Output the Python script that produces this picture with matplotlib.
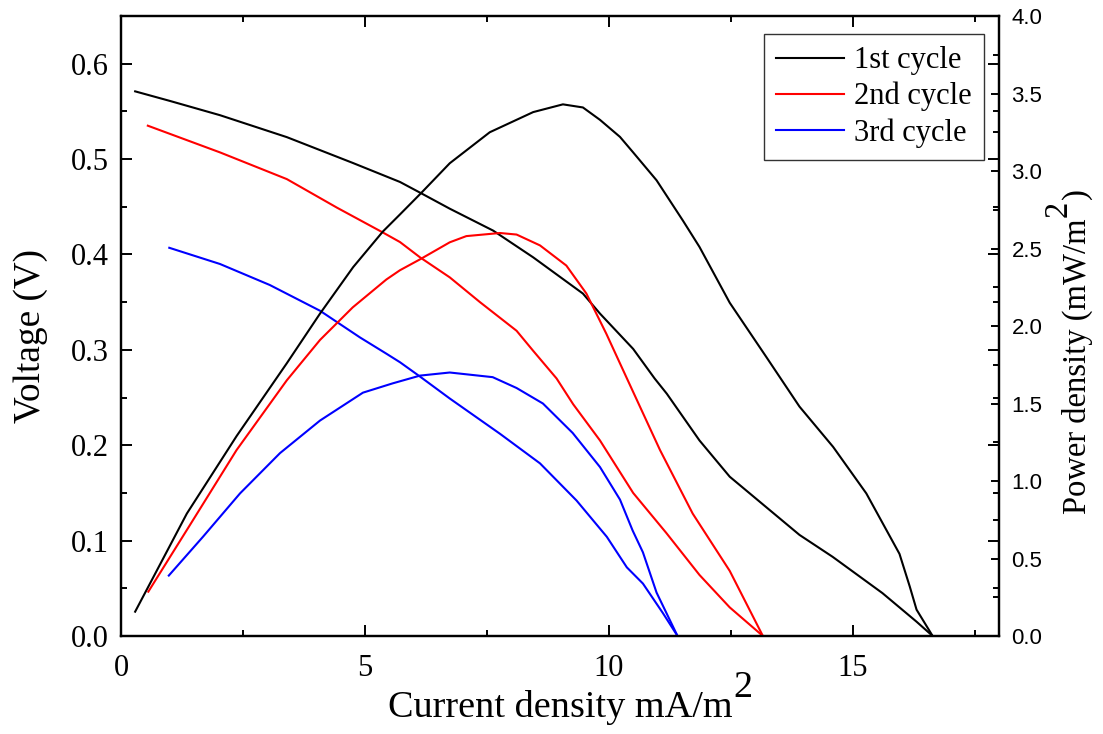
import matplotlib
matplotlib.use("Agg")
import matplotlib.pyplot as plt
from matplotlib.ticker import MultipleLocator, FormatStrFormatter

plt.rcParams["font.family"] = ["Liberation Serif", "DejaVu Serif"]

# ---- polarisation curves (voltage, V) ----
x_v1 = [0.29, 1.00, 2.03, 3.40, 4.75, 5.72, 6.16, 6.74, 7.63, 8.45, 9.47, 9.82,
        10.50, 10.94, 11.19, 11.86, 12.48, 13.23, 13.91, 14.59, 15.61, 16.31, 16.64]
v1 = [0.571, 0.561, 0.546, 0.523, 0.496, 0.476, 0.464, 0.448, 0.425, 0.397, 0.359, 0.338,
      0.301, 0.270, 0.254, 0.205, 0.167, 0.135, 0.106, 0.083, 0.045, 0.015, 0.000]

x_v2 = [0.55, 2.03, 3.40, 4.43, 5.37, 5.72, 6.13, 6.74, 7.36, 8.11, 8.45, 8.93,
        9.27, 9.82, 10.50, 11.18, 11.86, 12.48, 13.16]
v2 = [0.535, 0.507, 0.479, 0.449, 0.423, 0.413, 0.397, 0.376, 0.350, 0.320, 0.299, 0.270,
      0.243, 0.205, 0.150, 0.108, 0.064, 0.030, 0.000]

x_v3 = [0.99, 2.03, 3.05, 4.08, 4.90, 5.44, 5.72, 6.13, 6.74, 7.77, 8.59, 9.34, 9.96,
        10.37, 10.70, 11.11, 11.41]
v3 = [0.407, 0.390, 0.368, 0.341, 0.313, 0.296, 0.287, 0.272, 0.249, 0.212, 0.181, 0.142,
      0.104, 0.072, 0.055, 0.024, 0.000]

# ---- power density curves (mW/m2) ----
x_p1 = [0.29, 1.35, 2.37, 3.40, 4.08, 4.76, 5.37, 5.72, 6.16, 6.74, 7.56, 8.45, 9.06,
        9.47, 9.82, 10.23, 10.50, 10.98, 11.52, 11.86, 12.48, 13.23, 13.91, 14.60,
        15.28, 15.96, 16.17, 16.31, 16.64]
p1 = [0.157, 0.79, 1.29, 1.76, 2.08, 2.38, 2.61, 2.72, 2.86, 3.05, 3.25, 3.38, 3.43,
      3.41, 3.33, 3.22, 3.12, 2.94, 2.68, 2.51, 2.15, 1.80, 1.48, 1.22,
      0.92, 0.53, 0.32, 0.17, 0.0]

x_p2 = [0.56, 1.35, 2.37, 3.40, 4.08, 4.75, 5.44, 5.72, 6.13, 6.74, 7.08, 7.77, 8.11,
        8.59, 9.13, 9.54, 9.95, 10.36, 11.05, 11.72, 12.48, 13.16]
p2 = [0.286, 0.684, 1.20, 1.65, 1.91, 2.12, 2.30, 2.36, 2.43, 2.54, 2.58, 2.60, 2.59,
      2.52, 2.39, 2.21, 1.95, 1.67, 1.20, 0.79, 0.42, 0.0]

x_p3 = [0.98, 1.68, 2.44, 3.26, 4.08, 4.96, 5.57, 6.13, 6.74, 7.62, 8.11, 8.65, 9.26,
        9.82, 10.23, 10.49, 10.70, 10.98, 11.41]
p3 = [0.39, 0.64, 0.92, 1.18, 1.39, 1.57, 1.63, 1.68, 1.70, 1.67, 1.60, 1.50, 1.31,
      1.09, 0.88, 0.68, 0.54, 0.28, 0.0]

labels = ["1st cycle", "2nd cycle", "3rd cycle"]
colors = ["black", "#ff0000", "#0000ff"]

fig = plt.figure(figsize=(11.03, 7.34), dpi=100)
ax = fig.add_axes([0.1097, 0.1335, 0.7960, 0.8447])
ax2 = ax.twinx()

lw = 1.5
handles = []
for xv, vv, xp, pp, lab, c in zip([x_v1, x_v2, x_v3], [v1, v2, v3],
                                   [x_p1, x_p2, x_p3], [p1, p2, p3], labels, colors):
    h, = ax.plot(xv, vv, color=c, lw=lw, label=lab)
    ax2.plot(xp, pp, color=c, lw=lw)
    handles.append(h)

ax.set_xlim(0, 18)
ax.set_ylim(0, 0.65)
ax2.set_ylim(0, 4.0)

ax.xaxis.set_major_locator(MultipleLocator(5))
ax.xaxis.set_minor_locator(MultipleLocator(2.5))
ax.yaxis.set_major_locator(MultipleLocator(0.1))
ax.yaxis.set_minor_locator(MultipleLocator(0.05))
ax2.yaxis.set_major_locator(MultipleLocator(0.5))
ax2.yaxis.set_minor_locator(MultipleLocator(0.25))

ax.xaxis.set_major_formatter(FormatStrFormatter("%d"))
ax.yaxis.set_major_formatter(FormatStrFormatter("%.1f"))
ax2.yaxis.set_major_formatter(FormatStrFormatter("%.1f"))

for a in (ax, ax2):
    for s in a.spines.values():
        s.set_linewidth(1.6)

ax.tick_params(which="both", direction="in", top=True, right=True, width=1.4,
               labelsize=22, pad=9)
ax.tick_params(axis="x", pad=13)
ax.tick_params(which="major", length=8)
ax.tick_params(which="minor", length=4.5)
ax2.tick_params(which="both", direction="in", width=1.4, labelsize=16, pad=9)
ax2.tick_params(which="major", length=6)
ax2.tick_params(which="minor", length=4)
for t in ax2.get_yticklabels():
    t.set_fontfamily(["Liberation Sans", "DejaVu Sans"])

ax.set_xlabel("Current density mA/m", fontsize=27.5, labelpad=5)
ax.set_ylabel("Voltage (V)", fontsize=26.8)
ax.yaxis.set_label_coords(-0.083, 0.484)
ax2.set_ylabel("Power density (mW/m", fontsize=23.5, rotation=90)
ax2.yaxis.set_label_coords(1.0715, 0.435)

# full-size superscripts on the unit labels
ax.annotate("2", xy=(1, 0), xycoords=ax.xaxis.label, xytext=(1, 20),
            textcoords="offset points", fontsize=27.5, ha="left", va="baseline",
            annotation_clip=False)
ax2.annotate("2", xy=(1, 1), xycoords=ax2.yaxis.label, xytext=(-19, 1),
             textcoords="offset points", fontsize=23.5, rotation=90,
             rotation_mode="anchor", ha="left", va="baseline", annotation_clip=False)
ax2.annotate(")", xy=(1, 1), xycoords=ax2.yaxis.label, xytext=(-6, 14),
             textcoords="offset points", fontsize=23.5, rotation=90,
             rotation_mode="anchor", ha="left", va="baseline", annotation_clip=False)

leg = ax2.legend(handles=handles, labels=labels, loc="upper right",
                 bbox_to_anchor=(0.983, 0.971), fontsize=22, frameon=True,
                 fancybox=False, edgecolor="black", handlelength=2.2,
                 handletextpad=0.35, labelspacing=0.22, borderpad=0.4,
                 borderaxespad=0)
leg.get_frame().set_linewidth(1.0)

fig.savefig("out.png", dpi=100)
